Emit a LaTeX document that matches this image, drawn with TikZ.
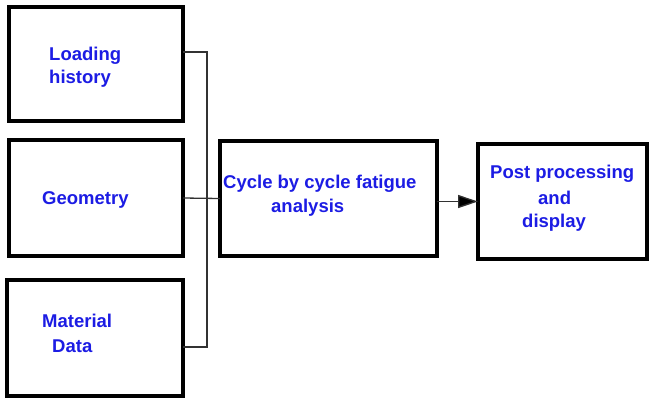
\documentclass[tikz,border=0pt]{standalone}
\usepackage{fontspec}
\setmainfont{Liberation Sans}
\usetikzlibrary{arrows.meta}
\definecolor{txtblue}{RGB}{28,28,228}
\definecolor{linegray}{RGB}{50,50,50}
\begin{document}
\begin{tikzpicture}[x=1pt,y=-1pt,
  blockbox/.style={draw=black,line width=4pt,fill=white,inner sep=0pt,outer sep=0pt},
  lbl/.style={anchor=base west,inner sep=0pt,text=txtblue,font=\fontsize{18.5}{22}\selectfont\bfseries},
  conn/.style={draw=linegray,line width=1.3pt}]
\useasboundingbox (0,0) rectangle (656,405);
\node[blockbox,minimum width=174pt,minimum height=114pt] (b1) at (96,64) {};
\node[blockbox,minimum width=174pt,minimum height=116pt] (b2) at (96,198) {};
\node[blockbox,minimum width=176pt,minimum height=116pt] (b3) at (95,338) {};
\node[blockbox,minimum width=217pt,minimum height=115pt] (b4) at (328.5,198.5) {};
\node[blockbox,minimum width=169pt,minimum height=115pt] (b5) at (562.5,201.5) {};
% labels
\node[lbl] (t1a) at (49,60) {Loading};
\node[lbl] (t1b) at (49,83) {history};
\node[lbl] (t2) at (42,204) {Geometry};
\node[lbl] (t3a) at (42,327) {Material};
\node[lbl] (t3b) at (52,352) {Data};
\node[lbl] (t4a) at (223,188) {Cycle by cycle fatigue};
\node[lbl] (t4b) at (271,212) {analysis};
\node[lbl] (t5a) at (490,178) {Post processing};
\node[lbl] (t5b) at (538,204) {and};
\node[lbl] (t5c) at (522,227) {display};
% connectors
\coordinate (j1) at (207,52);
\coordinate (j3) at (207,347);
\draw[conn] (j1 -| b1.east) -- (j1) -- (j3) -- (j3 -| b3.east);
\draw[conn] (b2.east) -- (b4.west);
\draw[conn,-{Triangle[length=20pt,width=13pt,fill=black]}] (b5.west -| b4.east) -- (b5.west);
\end{tikzpicture}
\end{document}
